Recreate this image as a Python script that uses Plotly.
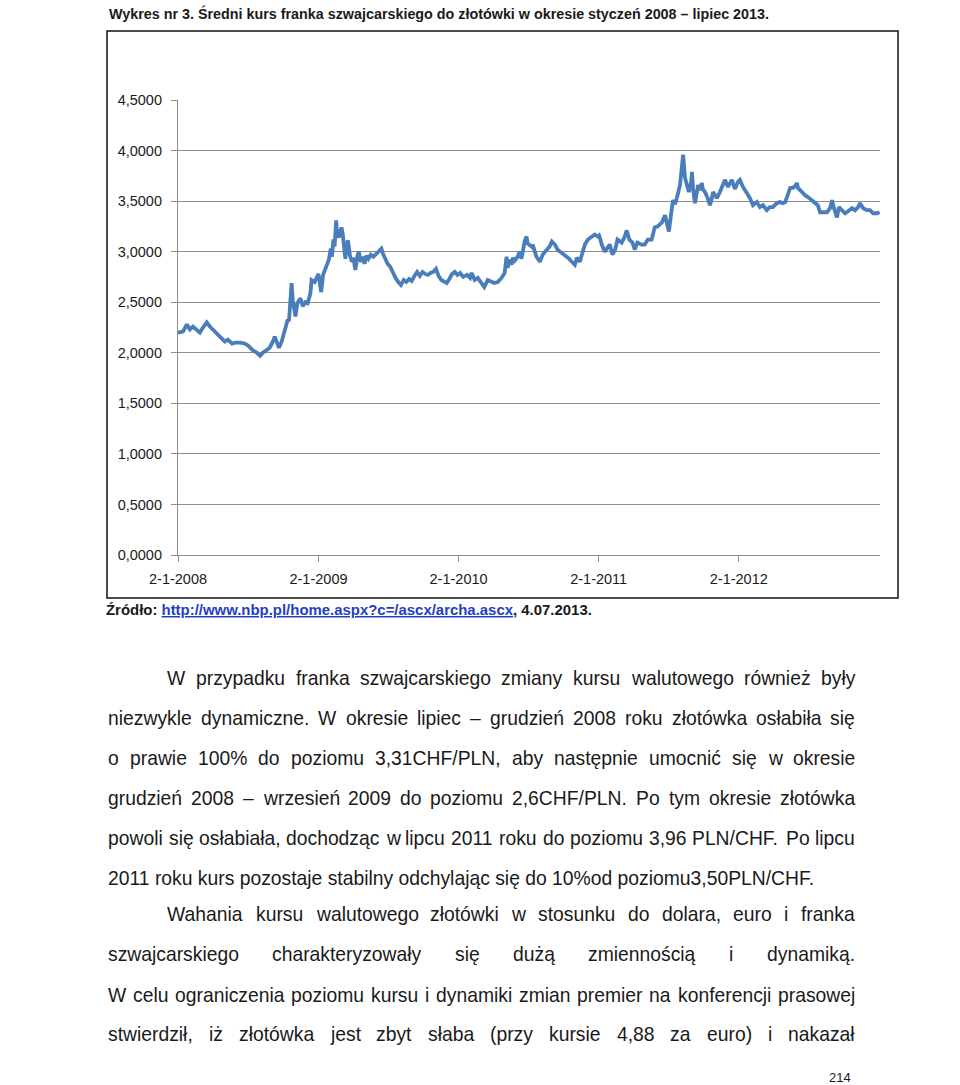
import plotly.graph_objects as go

# ---------------- data ----------------
dates_2008 = ["2008-01-02","2008-01-15","2008-01-25","2008-02-02","2008-02-10","2008-02-20","2008-02-28",
              "2008-03-07","2008-03-17","2008-03-25","2008-04-02","2008-04-12","2008-04-25","2008-05-03",
              "2008-05-11","2008-05-22","2008-05-30","2008-06-12","2008-06-25","2008-07-03","2008-07-16",
              "2008-07-26","2008-08-03","2008-08-10","2008-08-21","2008-08-28","2008-09-05","2008-09-10",
              "2008-09-16","2008-09-21","2008-09-28","2008-10-06","2008-10-14","2008-10-17","2008-10-24",
              "2008-10-27","2008-11-03","2008-11-08","2008-11-16","2008-11-22","2008-11-29","2008-12-05",
              "2008-12-12","2008-12-15","2008-12-23"]
rate_2008 = [2.20,2.21,2.28,2.23,2.26,2.23,2.20,
             2.25,2.30,2.26,2.23,2.18,2.14,2.11,
             2.13,2.09,2.10,2.10,2.09,2.07,2.02,
             2.00,1.97,2.00,2.03,2.05,2.11,2.16,
             2.10,2.05,2.11,2.23,2.33,2.31,2.69,
             2.52,2.36,2.49,2.54,2.46,2.50,2.49,
             2.59,2.72,2.70]

dates_2009 = ["2009-01-02","2009-01-05","2009-01-09","2009-01-14","2009-01-19","2009-01-24","2009-01-29",
              "2009-02-03","2009-02-06","2009-02-10","2009-02-13","2009-02-17","2009-02-20","2009-02-24",
              "2009-02-27","2009-03-03","2009-03-06","2009-03-10","2009-03-13","2009-03-17","2009-03-20",
              "2009-03-25","2009-03-30","2009-04-03","2009-04-08","2009-04-13","2009-04-17","2009-04-22",
              "2009-04-27","2009-05-02","2009-05-07","2009-05-12","2009-05-18","2009-05-25","2009-06-01",
              "2009-06-08","2009-06-15","2009-06-19","2009-06-24","2009-07-01","2009-07-08","2009-07-15",
              "2009-07-22","2009-07-29","2009-08-05","2009-08-12","2009-08-19","2009-08-26","2009-09-02",
              "2009-09-09","2009-09-16","2009-09-23","2009-09-30","2009-10-07","2009-10-14","2009-10-21",
              "2009-10-28","2009-11-04","2009-11-11","2009-11-18","2009-11-25","2009-12-02","2009-12-09",
              "2009-12-16","2009-12-23","2009-12-30"]
rate_2009 = [2.78,2.72,2.60,2.77,2.83,2.87,2.92,
             3.03,2.95,3.12,3.05,3.31,3.17,3.14,
             3.20,3.24,3.18,2.98,2.93,3.08,3.11,
             2.96,2.90,2.94,2.82,2.95,3.00,2.90,
             2.95,2.88,2.96,2.93,2.97,2.95,2.98,
             3.00,3.03,2.98,2.94,2.88,2.85,2.79,
             2.74,2.70,2.67,2.72,2.70,2.73,2.71,
             2.76,2.80,2.76,2.80,2.78,2.77,2.79,
             2.80,2.83,2.76,2.72,2.70,2.69,2.73,
             2.78,2.80,2.77]

dates_2010 = ["2010-01-06","2010-01-14","2010-01-24","2010-02-01","2010-02-05","2010-02-13","2010-02-21",
              "2010-03-03","2010-03-10","2010-03-19","2010-03-29","2010-04-05","2010-04-14","2010-04-24",
              "2010-05-02","2010-05-07","2010-05-10","2010-05-15","2010-05-20","2010-05-23","2010-05-28",
              "2010-06-05","2010-06-10","2010-06-15","2010-06-23","2010-06-28","2010-07-01","2010-07-11",
              "2010-07-14","2010-07-24","2010-08-02","2010-08-09","2010-08-20","2010-08-27","2010-09-02",
              "2010-09-10","2010-09-17","2010-09-28","2010-10-06","2010-10-14","2010-10-24","2010-11-01",
              "2010-11-06","2010-11-14","2010-11-20","2010-11-27","2010-12-05","2010-12-16","2010-12-23",
              "2010-12-31"]
rate_2010 = [2.79,2.75,2.77,2.74,2.79,2.72,2.74,
             2.69,2.65,2.72,2.70,2.69,2.70,2.74,
             2.79,2.95,2.84,2.92,2.87,2.94,2.91,
             2.95,3.00,2.93,3.10,3.15,3.08,3.05,
             3.07,2.95,2.90,2.97,3.02,3.05,3.10,
             3.07,3.02,2.99,2.97,2.94,2.90,2.87,
             2.94,2.90,2.98,3.07,3.12,3.15,3.17,
             3.15]

dates_2011 = ["2011-01-03","2011-01-05","2011-01-10","2011-01-18","2011-01-23","2011-01-31","2011-02-05",
              "2011-02-07","2011-02-14","2011-02-20","2011-03-03","2011-03-10","2011-03-16","2011-03-23",
              "2011-03-31","2011-04-06","2011-04-13","2011-04-24","2011-05-02","2011-05-10","2011-05-20",
              "2011-05-28","2011-06-05","2011-06-16","2011-06-24","2011-06-29","2011-07-04","2011-07-12",
              "2011-07-15","2011-07-20","2011-07-25","2011-07-28","2011-08-02","2011-08-10","2011-08-15",
              "2011-08-20","2011-08-25","2011-08-31","2011-09-02","2011-09-05","2011-09-10","2011-09-15",
              "2011-09-18","2011-09-23","2011-09-28","2011-09-30","2011-10-06","2011-10-13","2011-10-19",
              "2011-10-24","2011-10-27","2011-11-01","2011-11-06","2011-11-14","2011-11-22","2011-11-27",
              "2011-12-05","2011-12-15","2011-12-23","2011-12-31"]
rate_2011 = [3.16,3.14,3.07,3.00,3.03,3.07,3.00,
             2.97,3.02,3.12,3.09,3.14,3.21,3.12,
             3.09,3.02,3.09,3.07,3.07,3.12,3.12,
             3.24,3.25,3.29,3.36,3.28,3.20,3.44,
             3.51,3.47,3.53,3.58,3.66,3.96,3.73,
             3.66,3.59,3.69,3.79,3.62,3.48,3.59,
             3.66,3.61,3.68,3.62,3.59,3.53,3.46,
             3.53,3.59,3.56,3.53,3.59,3.66,3.71,
             3.64,3.71,3.62,3.69]

dates_2012 = ["2012-01-05","2012-01-13","2012-01-23","2012-01-31","2012-02-08","2012-02-18","2012-02-26",
              "2012-03-05","2012-03-15","2012-03-23","2012-03-31","2012-04-10","2012-04-18","2012-04-26",
              "2012-05-02","2012-05-09","2012-05-15","2012-05-22","2012-05-28","2012-06-02","2012-06-04",
              "2012-06-15","2012-06-22","2012-06-30","2012-07-11","2012-07-19","2012-07-26","2012-08-01",
              "2012-08-09","2012-08-19","2012-08-27","2012-09-01","2012-09-06","2012-09-14","2012-09-19",
              "2012-09-27","2012-10-05","2012-10-13","2012-10-23","2012-10-31","2012-11-08","2012-11-13",
              "2012-11-21","2012-12-01","2012-12-09","2012-12-17","2012-12-27","2013-01-03"]
rate_2012 = [3.71,3.64,3.58,3.53,3.46,3.49,3.44,
             3.46,3.41,3.44,3.44,3.48,3.49,3.48,
             3.49,3.58,3.63,3.63,3.65,3.68,3.63,
             3.59,3.56,3.54,3.51,3.48,3.46,3.39,
             3.39,3.39,3.43,3.51,3.43,3.34,3.44,
             3.41,3.38,3.40,3.43,3.41,3.44,3.48,
             3.43,3.41,3.41,3.38,3.38,3.39]

y_tick_values = [0, 0.5, 1.0, 1.5, 2.0, 2.5, 3.0, 3.5, 4.0, 4.5]
y_tick_labels = ["0,0000", "0,5000", "1,0000", "1,5000", "2,0000", "2,5000",
                 "3,0000", "3,5000", "4,0000", "4,5000"]
x_tick_values = ["2008-01-02", "2009-01-02", "2010-01-02", "2011-01-02", "2012-01-02"]
x_tick_labels = ["2-1-2008", "2-1-2009", "2-1-2010", "2-1-2011", "2-1-2012"]

title_text = "Wykres nr 3. Średni kurs franka szwajcarskiego do złotówki w okresie styczeń 2008 – lipiec 2013."
source_prefix = "Źródło: "
source_url = "http://www.nbp.pl/home.aspx?c=/ascx/archa.ascx"
source_suffix = ", 4.07.2013."

body_lines = [
    "W przypadku franka szwajcarskiego zmiany kursu walutowego również były",
    "niezwykle dynamiczne. W okresie lipiec – grudzień 2008 roku złotówka osłabiła się",
    "o prawie 100% do poziomu 3,31CHF/PLN, aby następnie umocnić się w okresie",
    "grudzień 2008 – wrzesień 2009 do poziomu 2,6CHF/PLN. Po tym okresie złotówka",
    "powoli się osłabiała, dochodząc w lipcu 2011 roku do poziomu 3,96 PLN/CHF. Po lipcu",
    "2011 roku kurs pozostaje stabilny odchylając się do 10%od poziomu3,50PLN/CHF.",
    "Wahania kursu walutowego złotówki w stosunku do dolara, euro i franka",
    "szwajcarskiego charakteryzowały się dużą zmiennością i dynamiką.",
    "W celu ograniczenia poziomu kursu i dynamiki zmian premier na konferencji prasowej",
    "stwierdził, iż złotówka jest zbyt słaba (przy kursie 4,88 za euro) i nakazał",
]
page_number = "214"

# ---------------- layout geometry ----------------
W, H = 960, 1085
L, R, T, B = 178, 80, 100, 530
PW, PH = W - L - R, H - T - B
BASE = H - B  # pixel row of y=0


def px(x):
    return (x - L) / PW


def py(y):
    return (BASE - y) / PH


# Arial / Liberation Sans advance widths (per 1000 em)
REG = {' ': 278, 'a': 556, 'b': 556, 'c': 500, 'd': 556, 'e': 556, 'f': 278, 'g': 556, 'h': 556,
       'i': 222, 'j': 222, 'k': 500, 'l': 222, 'm': 833, 'n': 556, 'o': 556, 'p': 556, 'q': 556,
       'r': 333, 's': 500, 't': 278, 'u': 556, 'v': 500, 'w': 722, 'x': 500, 'y': 500, 'z': 500,
       'A': 667, 'B': 667, 'C': 722, 'D': 722, 'E': 667, 'F': 611, 'G': 778, 'H': 722, 'I': 278,
       'J': 500, 'K': 667, 'L': 556, 'M': 833, 'N': 722, 'O': 778, 'P': 667, 'Q': 778, 'R': 722,
       'S': 667, 'T': 611, 'U': 722, 'V': 667, 'W': 944, 'X': 667, 'Y': 667, 'Z': 611,
       ',': 278, '.': 278, '%': 889, '/': 278, '–': 556, '-': 333, '(': 333, ')': 333, ':': 278,
       '?': 556, '=': 584,
       'ó': 556, 'ł': 222, 'ę': 556, 'ą': 556, 'ż': 500, 'ź': 500, 'ś': 500, 'ć': 500, 'ń': 556,
       'Ś': 667, 'Ź': 611}
BOLD = {' ': 278, 'a': 556, 'b': 611, 'c': 556, 'd': 611, 'e': 556, 'f': 333, 'g': 611, 'h': 611,
        'i': 278, 'j': 278, 'k': 556, 'l': 278, 'm': 889, 'n': 611, 'o': 611, 'p': 611, 'q': 611,
        'r': 389, 's': 556, 't': 333, 'u': 611, 'v': 556, 'w': 778, 'x': 556, 'y': 556, 'z': 500,
        'W': 944, 'Ś': 667, 'Ź': 611, ',': 278, '.': 278, '/': 278, '–': 556, ':': 333, '?': 611,
        '=': 584, 'ó': 611, 'ł': 278, 'ę': 556, 'ą': 556, 'ż': 500, 'ź': 500, 'ś': 556, 'ć': 556,
        'ń': 611}


def width(s, size, table=REG):
    return sum(table.get(c, 556) for c in s) * size / 1000.0


FONT = "Liberation Sans, Arial, sans-serif"
TXT = "#1a1a1a"

annotations = []


def add_text(x, y, text, size, anchor="left", color=TXT):
    annotations.append(dict(x=px(x), y=py(y), xref="paper", yref="paper", text=text,
                            showarrow=False, xanchor=anchor, yanchor="middle",
                            borderpad=0, font=dict(family=FONT, size=size, color=color)))


# title
title_size = (769 - 108) / width(title_text, 1.0, BOLD)
add_text(108, 13, "<b>" + title_text + "</b>", title_size)

# source
src_size = (513 - 105) / width(source_prefix + source_url, 1.0, BOLD)
add_text(105, 609, "<b>" + source_prefix + "<span style='color:#1f3fbf'><u>" + source_url +
         "</u></span>" + source_suffix + "</b>", src_size)

# body text (justified)
body_size = (817 - 107) / width(body_lines[5], 1.0)
line_y = [678, 718, 758, 798, 838, 878, 915, 954, 995, 1034]
line_x0 = [166, 107, 107, 107, 107, 107, 166, 107, 107, 107]
RIGHT = 854
for i, line in enumerate(body_lines):
    if i == 5:
        add_text(line_x0[i], line_y[i], line, body_size)
        continue
    words = line.split(" ")
    ws = [width(w, body_size) for w in words]
    gap = (RIGHT - line_x0[i] - sum(ws)) / (len(words) - 1)
    x = line_x0[i]
    for w, wd in zip(words, ws):
        add_text(x, line_y[i], w, body_size)
        x += wd + gap

add_text(840, 1077, page_number, 13, anchor="center")

# ---------------- figure ----------------
dates = dates_2008 + dates_2009 + dates_2010 + dates_2011 + dates_2012
rates = rate_2008 + rate_2009 + rate_2010 + rate_2011 + rate_2012

fig = go.Figure(go.Scatter(x=dates, y=rates, mode="lines",
                           line=dict(color="#4a7ebb", width=3.8), hoverinfo="x+y"))

shapes = [dict(type="rect", xref="paper", yref="paper",
               x0=px(107), x1=px(898), y0=py(598), y1=py(31),
               line=dict(color="#111111", width=1.5), layer="below")]

fig.update_layout(
    width=W, height=H,
    margin=dict(l=L, r=R, t=T, b=B, pad=0),
    paper_bgcolor="white", plot_bgcolor="white",
    showlegend=False,
    font=dict(family=FONT, color=TXT),
    xaxis=dict(type="date", range=["2008-01-02", "2013-01-04"],
               tickmode="array", tickvals=x_tick_values, ticktext=x_tick_labels,
               showgrid=False, zeroline=False,
               showline=True, linecolor="#8c8c8c", linewidth=1.2,
               ticks="outside", ticklen=6, tickcolor="#8c8c8c", tickwidth=1,
               tickfont=dict(size=14.5, color=TXT, family=FONT), ticklabelstandoff=4),
    yaxis=dict(range=[0, 4.5], tickmode="array", tickvals=y_tick_values, ticktext=y_tick_labels,
               showgrid=True, gridcolor="#8c8c8c", gridwidth=1.2, zeroline=False,
               showline=True, linecolor="#8c8c8c", linewidth=1.2,
               ticks="outside", ticklen=6, tickcolor="#8c8c8c", tickwidth=1,
               tickfont=dict(size=14.5, color=TXT, family=FONT), ticklabelstandoff=6),
    annotations=annotations,
    shapes=shapes,
)

fig.write_html("out.html")
